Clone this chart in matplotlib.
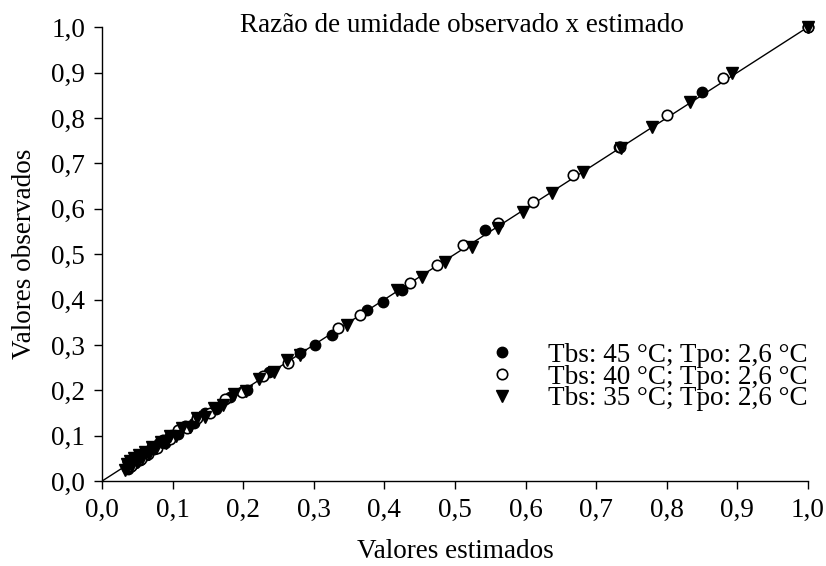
import matplotlib
matplotlib.use("Agg")
import matplotlib.pyplot as plt

plt.rcParams['font.family'] = ['Liberation Serif', 'DejaVu Serif']

# Moisture ratio: estimated (model) vs observed, per drying condition
est_45 = [1.000, 0.850, 0.733, 0.542, 0.425, 0.398, 0.375, 0.326, 0.302, 0.280,
          0.236, 0.205, 0.182, 0.162, 0.146, 0.131, 0.118, 0.107, 0.097, 0.089,
          0.081, 0.074, 0.068, 0.063, 0.058, 0.054, 0.050, 0.047, 0.044, 0.041,
          0.039, 0.037, 0.035]
obs_45 = [1.000, 0.857, 0.735, 0.553, 0.421, 0.394, 0.376, 0.322, 0.300, 0.282,
          0.240, 0.200, 0.186, 0.158, 0.150, 0.127, 0.121, 0.103, 0.100, 0.085,
          0.083, 0.070, 0.069, 0.058, 0.060, 0.047, 0.052, 0.040, 0.046, 0.033,
          0.040, 0.027, 0.032]

est_40 = [1.000, 0.880, 0.800, 0.734, 0.667, 0.611, 0.561, 0.511, 0.474, 0.436,
          0.366, 0.334, 0.264, 0.228, 0.198, 0.174, 0.153, 0.135, 0.120, 0.107,
          0.096, 0.086, 0.078, 0.071, 0.065, 0.060, 0.055, 0.051, 0.047, 0.044,
          0.041, 0.038, 0.036]
obs_40 = [1.000, 0.889, 0.806, 0.737, 0.674, 0.615, 0.568, 0.520, 0.476, 0.436,
          0.366, 0.337, 0.260, 0.231, 0.196, 0.180, 0.151, 0.140, 0.118, 0.112,
          0.092, 0.090, 0.073, 0.075, 0.060, 0.063, 0.049, 0.055, 0.041, 0.046,
          0.034, 0.040, 0.030]

est_35 = [1.000, 0.892, 0.833, 0.779, 0.735, 0.681, 0.637, 0.596, 0.561, 0.524,
          0.486, 0.453, 0.418, 0.347, 0.281, 0.262, 0.243, 0.222, 0.204, 0.187,
          0.172, 0.158, 0.146, 0.134, 0.124, 0.114, 0.105, 0.097, 0.090, 0.083,
          0.077, 0.071, 0.066, 0.061, 0.057, 0.053, 0.049, 0.046, 0.043, 0.040,
          0.037, 0.035, 0.033]
obs_35 = [1.000, 0.899, 0.835, 0.780, 0.733, 0.681, 0.634, 0.593, 0.557, 0.515,
          0.482, 0.449, 0.420, 0.344, 0.278, 0.266, 0.240, 0.226, 0.199, 0.191,
          0.168, 0.162, 0.141, 0.138, 0.119, 0.118, 0.100, 0.100, 0.085, 0.087,
          0.072, 0.075, 0.060, 0.064, 0.051, 0.057, 0.043, 0.050, 0.036, 0.044,
          0.030, 0.037, 0.025]

labels = ["Tbs: 45 °C; Tpo: 2,6 °C",
          "Tbs: 40 °C; Tpo: 2,6 °C",
          "Tbs: 35 °C; Tpo: 2,6 °C"]
ticks = [0.0, 0.1, 0.2, 0.3, 0.4, 0.5, 0.6, 0.7, 0.8, 0.9, 1.0]
tick_labels = [f"{t:.1f}".replace(".", ",") for t in ticks]

fig = plt.figure(figsize=(8.26, 5.66), dpi=100)
ax = fig.add_axes([0.1235, 0.150, 0.8545, 0.802])

# 1:1 reference line
ax.plot([0, 1], [0, 1], color="black", lw=1.0, zorder=1)

ax.plot(est_45, obs_45, linestyle="none", marker="o", ms=7.5, mfc="black",
        mec="black", clip_on=False, label=labels[0], zorder=3)
ax.plot(est_40, obs_40, linestyle="none", marker="o", ms=7.5, mfc="white",
        mec="black", mew=1.2, clip_on=False, label=labels[1], zorder=3)
ax.plot(est_35, obs_35, linestyle="none", marker="v", ms=9, mfc="black",
        mec="black", clip_on=False, label=labels[2], zorder=3)

ax.set_xlim(0, 1)
ax.set_ylim(0, 1)
ax.set_xticks(ticks)
ax.set_yticks(ticks)
ax.set_xticklabels(tick_labels)
ax.set_yticklabels(tick_labels)
ax.tick_params(direction="out", length=6, width=1, labelsize=19.5, pad=6)
for s in ["top", "right"]:
    ax.spines[s].set_visible(False)
for s in ["left", "bottom"]:
    ax.spines[s].set_linewidth(1.0)

ax.set_xlabel("Valores estimados", fontsize=19.5, labelpad=12)
ax.set_ylabel("Valores observados", fontsize=19.5, labelpad=10)
ax.text(0.51, 1.004, "Razão de umidade observado x estimado", fontsize=19.5,
        ha="center", va="center", transform=ax.transAxes)

ax.legend(loc="center left", bbox_to_anchor=(0.547, 0.229), frameon=False,
          fontsize=19.5, handlelength=1.0, handletextpad=1.2,
          labelspacing=-0.12, borderpad=0, borderaxespad=0)

fig.savefig("out.png", dpi=100)
